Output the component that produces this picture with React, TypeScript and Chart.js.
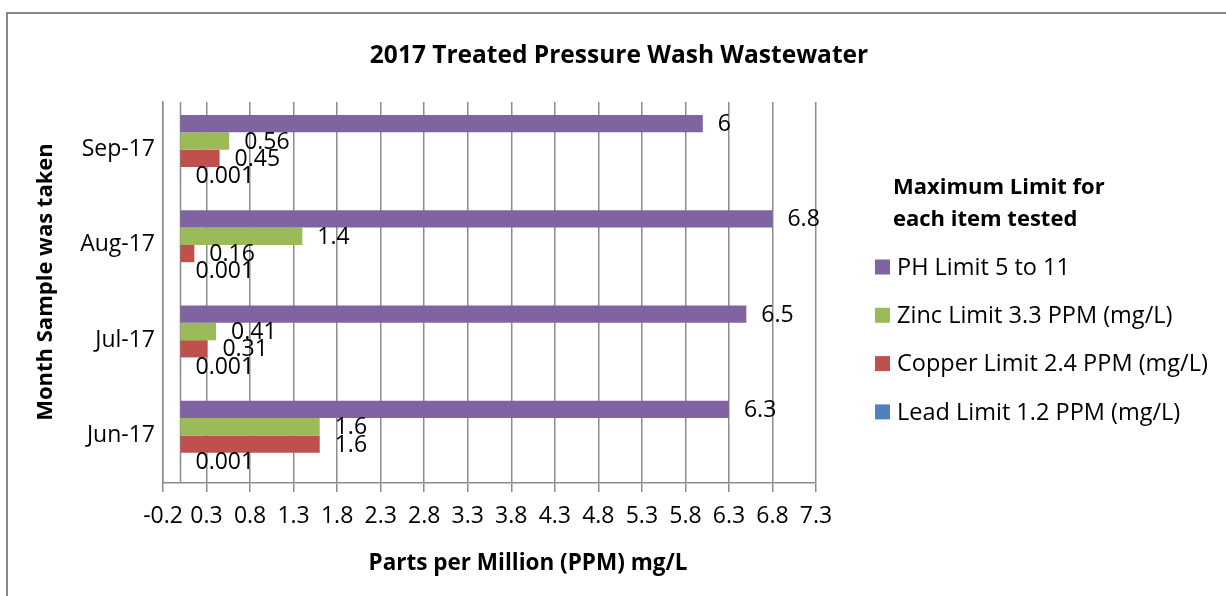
import React, { useEffect, useRef } from 'react';
import { Chart, registerables } from 'chart.js';

Chart.register(...registerables);

const categories = ['Sep-17', 'Aug-17', 'Jul-17', 'Jun-17'];
const phValues = [6, 6.8, 6.5, 6.3];
const zincValues = [0.56, 1.4, 0.41, 1.6];
const copperValues = [0.45, 0.16, 0.31, 1.6];
const leadValues = [0.001, 0.001, 0.001, 0.001];
const seriesNames = [
  'PH Limit 5 to 11',
  'Zinc Limit 3.3 PPM (mg/L)',
  'Copper Limit 2.4 PPM (mg/L)',
  'Lead Limit 1.2 PPM (mg/L)',
];
const seriesColors = ['#8064A2', '#9BBB59', '#C0504D', '#4F81BD'];
const xTickValues = [-0.2, 0.3, 0.8, 1.3, 1.8, 2.3, 2.8, 3.3, 3.8, 4.3, 4.8, 5.3, 5.8, 6.3, 6.8, 7.3];
const chartTitle = '2017 Treated Pressure Wash Wastewater';
const xTitle = 'Parts per Million (PPM) mg/L';
const yTitle = 'Month Sample was taken';
const legendTitle = ['Maximum Limit for', 'each item tested'];

const FONT = "'Open Sans', sans-serif";
const GRID = '#8c8c8c';

const decorPlugin = {
  id: 'decor',
  beforeDraw(chart: any) {
    const ctx = chart.ctx;
    ctx.save();
    ctx.strokeStyle = '#888888';
    ctx.lineWidth = 2;
    ctx.beginPath();
    ctx.moveTo(7, chart.height + 5);
    ctx.lineTo(7, 13);
    ctx.lineTo(chart.width + 5, 13);
    ctx.stroke();
    ctx.restore();
  },
  beforeDatasetsDraw(chart: any) {
    const ctx = chart.ctx;
    const xs = chart.scales.x;
    const area = chart.chartArea;
    const x0 = Math.round(xs.getPixelForValue(0)) + 0.5;
    ctx.save();
    ctx.strokeStyle = GRID;
    ctx.lineWidth = 1.5;
    ctx.beginPath();
    ctx.moveTo(x0, area.top);
    ctx.lineTo(x0, area.bottom);
    ctx.stroke();
    ctx.restore();
  },
  afterDatasetsDraw(chart: any) {
    const ctx = chart.ctx;
    ctx.save();
    ctx.fillStyle = '#000';
    ctx.font = `23px ${FONT}`;
    ctx.textAlign = 'left';
    ctx.textBaseline = 'middle';
    chart.data.datasets.forEach((ds: any, di: number) => {
      const meta = chart.getDatasetMeta(di);
      meta.data.forEach((el: any, i: number) => {
        ctx.fillText(String(ds.data[i]), el.x + 15, el.y + 1);
      });
    });
    ctx.restore();
  },
  afterDraw(chart: any) {
    const ctx = chart.ctx;
    ctx.save();
    ctx.fillStyle = '#000';
    ctx.textBaseline = 'middle';
    // chart title
    ctx.textAlign = 'center';
    ctx.font = `bold 24.5px ${FONT}`;
    ctx.fillText(chartTitle, 619, 56);
    // x title
    ctx.font = `bold 22.5px ${FONT}`;
    ctx.fillText(xTitle, 528, 564);
    // y title
    ctx.save();
    ctx.translate(46, 282);
    ctx.rotate(-Math.PI / 2);
    ctx.font = `bold 22px ${FONT}`;
    ctx.fillText(yTitle, 0, 0);
    ctx.restore();
    // legend
    ctx.textAlign = 'left';
    ctx.font = `bold 22px ${FONT}`;
    legendTitle.forEach((t, i) => ctx.fillText(t, 893, 188 + i * 32));
    ctx.font = `23.5px ${FONT}`;
    seriesNames.forEach((name, i) => {
      const cy = 267 + i * 48.3;
      ctx.fillStyle = seriesColors[i];
      ctx.fillRect(875, cy - 7.5, 15, 15);
      ctx.fillStyle = '#000';
      ctx.fillText(name, 897, cy + 1);
    });
    ctx.restore();
  },
};

export default function App() {
  const ref = useRef<HTMLCanvasElement>(null);
  useEffect(() => {
    if (!ref.current) return;
    Chart.defaults.font.family = FONT;
    Chart.defaults.font.size = 23;
    Chart.defaults.color = '#000';
    const values = [phValues, zincValues, copperValues, leadValues];
    const chart = new Chart(ref.current, {
      type: 'bar',
      data: {
        labels: categories,
        datasets: values.map((v, i) => ({
          label: seriesNames[i],
          data: v,
          backgroundColor: seriesColors[i],
          borderWidth: 0,
          categoryPercentage: 0.727,
          barPercentage: 1,
        })),
      },
      options: {
        indexAxis: 'y',
        responsive: false,
        animation: false,
        layout: { padding: { left: 8, top: 102, right: 410, bottom: 0 } },
        plugins: {
          legend: { display: false },
          title: { display: false },
          tooltip: { enabled: false },
        },
        scales: {
          x: {
            type: 'linear',
            min: -0.2,
            max: 7.3,
            afterBuildTicks: (s: any) => {
              s.ticks = xTickValues.map((v) => ({ value: v }));
            },
            afterFit: (s: any) => {
              s.height = 113;
            },
            ticks: {
              autoSkip: false,
              maxRotation: 0,
              padding: 11,
              font: { size: 23 },
              callback: (v: any) => Number(v).toFixed(1),
            },
            grid: { color: GRID, lineWidth: 1.5, tickLength: 9, drawTicks: true },
            border: { display: true, color: GRID, width: 1.5 },
          },
          y: {
            type: 'category',
            afterFit: (s: any) => {
              s.width = 155;
            },
            ticks: { padding: 0, font: { size: 23 } },
            grid: { display: false },
            border: { display: true, color: GRID, width: 1.5 },
          },
        },
      },
      plugins: [decorPlugin],
    });
    return () => chart.destroy();
  }, []);
  return (
    <div style={{ position: 'absolute', left: 0, top: 0, width: 1226, height: 596 }}>
      <canvas ref={ref} width={1226} height={596} />
    </div>
  );
}
